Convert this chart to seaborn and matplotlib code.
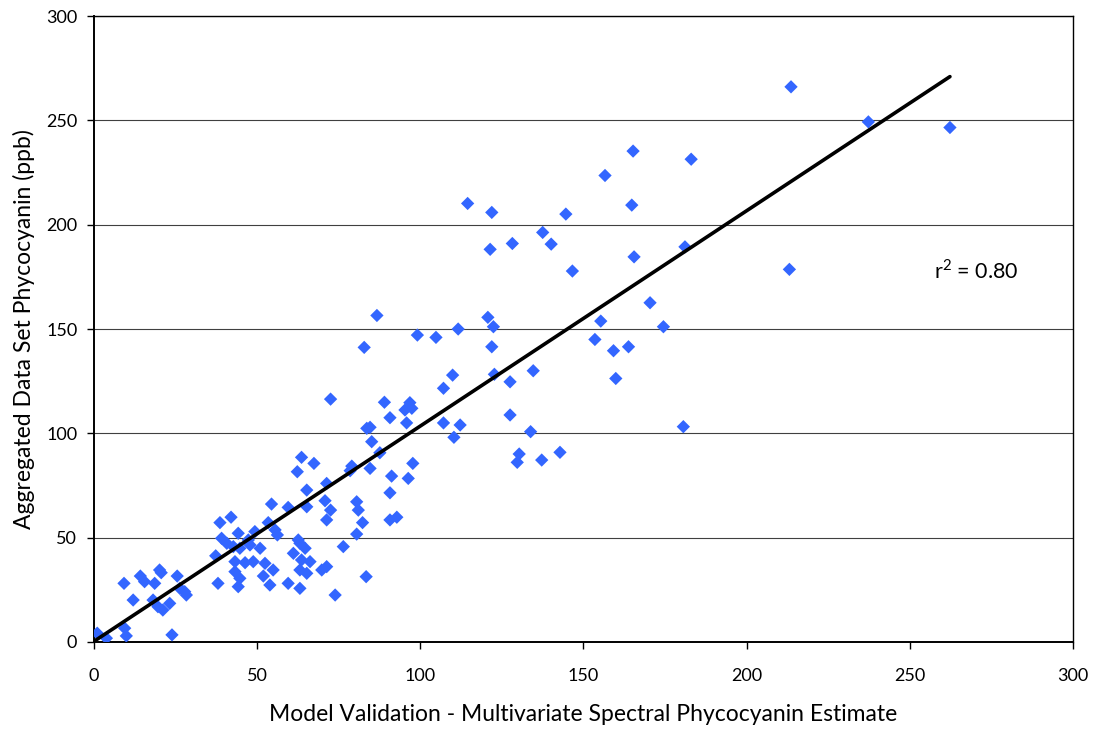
import numpy as np
import pandas as pd
import matplotlib
matplotlib.use("Agg")
import matplotlib.pyplot as plt
import seaborn as sns

# Spectral model estimate (x) vs aggregated measurements (y), ppb
model_estimate = [
    1.0, 3.8, 9.4, 9.9, 23.9, 9.2, 12.0, 14.2, 15.5, 18.6, 20.1, 20.6, 25.5,
    18.1, 19.6, 21.1, 23.2, 26.3, 27.8, 28.3, 37.3, 38.0,
    54.4, 59.5, 65.2, 38.6, 42.0, 53.4, 55.5, 56.2, 44.2, 39.1, 40.7, 42.7,
    44.7, 47.3, 49.3, 47.8, 50.9, 62.6, 63.1, 64.7, 61.1, 63.6, 66.2, 43.2,
    46.3, 48.8, 52.4, 43.2, 44.7, 44.2, 54.9, 51.9, 53.9, 59.5, 63.1, 63.1,
    65.2, 69.8, 71.3, 71.3,
    85.1, 87.6, 63.6, 67.4, 62.3, 79.0, 78.5, 84.6, 97.7, 91.2, 96.3, 71.3,
    65.2, 90.7, 70.8, 80.5, 81.0, 72.5, 82.3, 80.5, 90.7, 92.8, 76.4, 73.9,
    83.4,
    99.1, 104.8, 111.6, 82.8, 109.9, 107.1, 72.5, 89.0, 96.8, 97.4, 95.3,
    90.7, 95.8, 107.1, 112.2, 83.6, 84.6, 110.3, 86.7,
    114.5, 121.9, 144.6, 164.8, 137.5, 140.1, 128.2, 121.4, 165.5, 181.1,
    146.6, 170.4, 155.3, 174.5, 120.7, 122.4, 153.5, 163.8, 159.2, 121.9,
    159.9, 134.6, 122.7, 127.5, 127.5, 133.8, 180.6, 130.3, 129.7, 137.2,
    142.8,
    213.6, 237.3, 262.3, 183.0, 213.1, 165.2, 156.6,
]
measured = [
    4.2, 1.8, 6.6, 2.9, 3.4, 28.1, 20.1, 31.6, 28.9, 28.1, 34.5, 33.2, 31.6,
    20.1, 16.9, 15.3, 18.5, 25.7, 24.1, 22.5, 41.3, 28.1,
    66.1, 64.5, 64.8, 57.2, 59.8, 57.2, 53.7, 51.3, 52.1, 49.7, 47.3, 45.7,
    44.9, 48.9, 52.9, 46.5, 44.9, 48.9, 47.3, 44.9, 42.5, 39.3, 38.5, 38.5,
    38.0, 38.5, 37.7, 33.7, 30.5, 26.5, 34.5, 31.6, 27.3, 28.1, 25.7, 34.5,
    32.9, 34.5, 36.1, 58.5,
    96.0, 90.7, 88.5, 85.6, 81.6, 84.3, 82.1, 83.2, 85.6, 79.5, 78.4, 76.0,
    72.8, 71.5, 67.7, 67.2, 63.2, 63.2, 57.2, 51.7, 58.5, 59.8, 45.7, 22.5,
    31.3,
    147.1, 146.0, 150.0, 141.2, 127.9, 121.6, 116.4, 114.9, 114.7, 112.0,
    111.2, 107.5, 105.0, 105.0, 104.0, 102.4, 102.9, 98.1, 156.5,
    210.2, 205.9, 205.1, 209.4, 196.3, 190.7, 191.0, 188.2, 184.6, 189.4,
    177.8, 162.6, 153.8, 151.1, 155.6, 151.1, 145.0, 141.5, 139.6, 141.5,
    126.3, 130.0, 128.3, 124.7, 108.8, 100.8, 103.2, 90.1, 86.1, 87.2,
    90.9,
    266.1, 249.3, 246.6, 231.4, 178.6, 235.3, 223.6,
]

# Fitted regression line and its coefficient of determination
fit_slope = 1.032
fit_intercept = 0.3
fit_x = [0.0, 262.3]
r_squared = 0.80

x_ticks = [0, 50, 100, 150, 200, 250, 300]
y_ticks = [0, 50, 100, 150, 200, 250, 300]
x_label = "Model Validation - Multivariate Spectral Phycocyanin Estimate"
y_label = "Aggregated Data Set Phycocyanin (ppb)"

sns.set_theme(style="white")
plt.rcParams["font.family"] = ["Lato", "DejaVu Sans"]
plt.rcParams["mathtext.fontset"] = "custom"
plt.rcParams["mathtext.rm"] = "Lato"

df = pd.DataFrame({"estimate": model_estimate, "measured": measured})
fit_df = pd.DataFrame({"x": fit_x,
                       "y": [fit_slope * v + fit_intercept for v in fit_x]})

fig = plt.figure(figsize=(10.98, 7.32), dpi=100)
ax = fig.add_axes([0.0856, 0.123, 0.8916, 0.855])

ax.set_axisbelow(True)
ax.yaxis.grid(True, color="#404040", linewidth=0.8)
ax.xaxis.grid(False)

sns.scatterplot(data=df, x="estimate", y="measured", ax=ax, marker="D",
                s=46, color="#3366FF", edgecolor="none", zorder=3)
sns.lineplot(data=fit_df, x="x", y="y", ax=ax, color="black",
             linewidth=2.6, zorder=4)

ax.set_xlim(0, 300)
ax.set_ylim(0, 300)
ax.set_xticks(x_ticks)
ax.set_yticks(y_ticks)
ax.tick_params(axis="both", direction="out", length=5, width=1,
               color="black", labelsize=13, labelcolor="black",
               bottom=True, left=True)
ax.tick_params(axis="x", pad=14)
ax.tick_params(axis="y", pad=7)

for side in ["left", "bottom", "right", "top"]:
    ax.spines[side].set_visible(True)
    ax.spines[side].set_color("black")
    ax.spines[side].set_linewidth(1.0)
ax.spines["left"].set_linewidth(1.4)
ax.spines["bottom"].set_linewidth(1.4)

ax.set_xlabel(x_label, fontsize=16.5, color="black", labelpad=14)
ax.set_ylabel(y_label, fontsize=16.5, color="black", labelpad=8)

ax.text(257.5, 178, f"r$^{{\\mathrm{{2}}}}$ = {r_squared:.2f}", fontsize=15.5,
        color="black", va="center", ha="left")

fig.savefig("out.png", dpi=100)
